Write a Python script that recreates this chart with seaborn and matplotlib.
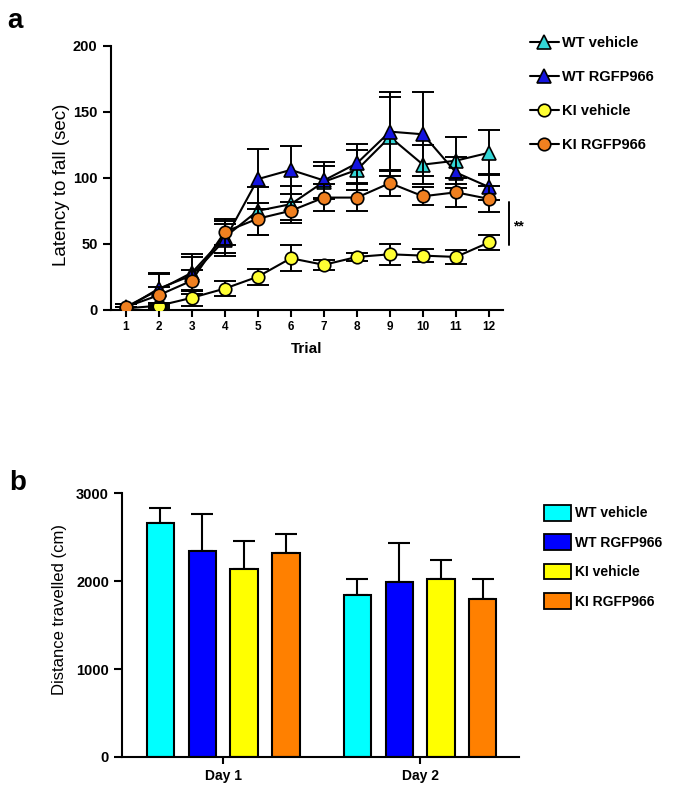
import numpy as np
import pandas as pd
import matplotlib
matplotlib.use("Agg")
import matplotlib.pyplot as plt
from matplotlib.patches import Patch
import seaborn as sns

# ---- data: panel a (rotarod latency, mean and SEM per trial) ----
trials = list(range(1, 13))
groups = ["WT vehicle", "WT RGFP966", "KI vehicle", "KI RGFP966"]
wt_vehicle = [2, 15, 28, 55, 75, 80, 97, 106, 131, 110, 113, 119]
wt_vehicle_sem = [2, 12, 14, 12, 18, 14, 12, 15, 30, 15, 18, 17]
wt_rgfp = [1, 16, 26, 53, 99, 106, 98, 111, 135, 133, 104, 93]
wt_rgfp_sem = [1, 12, 14, 12, 23, 18, 14, 15, 30, 32, 12, 10]
ki_vehicle = [1, 3, 9, 16, 25, 39, 34, 40, 42, 41, 40, 51]
ki_vehicle_sem = [1, 2, 6, 6, 6, 10, 4, 3, 8, 5, 5, 6]
ki_rgfp = [2, 11, 22, 59, 69, 75, 85, 85, 96, 86, 89, 84]
ki_rgfp_sem = [2, 6, 8, 10, 12, 7, 10, 10, 10, 7, 11, 10]

# ---- data: panel b (open field distance, mean and SEM) ----
days = ["Day 1", "Day 2"]
dist_wt_vehicle = [2666, 1846]
dist_wt_vehicle_sem = [163, 174]
dist_wt_rgfp = [2347, 1994]
dist_wt_rgfp_sem = [414, 444]
dist_ki_vehicle = [2142, 2020]
dist_ki_vehicle_sem = [319, 221]
dist_ki_rgfp = [2316, 1796]
dist_ki_rgfp_sem = [217, 224]

line_colors = ["#33D6D6", "#1414E0", "#FFFF33", "#F08020"]
bar_colors = ["#00FFFF", "#0000FF", "#FFFF00", "#FF8000"]
markers = ["^", "^", "o", "o"]

sns.set_style("ticks", {"axes.edgecolor": "black", "xtick.color": "black",
                        "ytick.color": "black", "text.color": "black",
                        "axes.labelcolor": "black"})
plt.rcParams["font.family"] = ["Liberation Sans", "DejaVu Sans"]
plt.rcParams["font.weight"] = "bold"
plt.rcParams["axes.linewidth"] = 1.5
plt.rcParams["xtick.major.width"] = 1.5
plt.rcParams["ytick.major.width"] = 1.5

fig = plt.figure(figsize=(6.75, 7.85), dpi=100)

# ---------------- panel a ----------------
ax = fig.add_axes([0.164, 0.6055, 0.581, 0.336])
means = [wt_vehicle, wt_rgfp, ki_vehicle, ki_rgfp]
sems = [wt_vehicle_sem, wt_rgfp_sem, ki_vehicle_sem, ki_rgfp_sem]
for i, g in enumerate(groups):
    ax.errorbar(trials, means[i], yerr=sems[i], fmt="none", ecolor="black",
                elinewidth=1.4, capsize=8, capthick=1.4, zorder=2 + i)
    sns.lineplot(x=trials, y=means[i], ax=ax, color="black", lw=1.5,
                 marker=markers[i], markersize=10 if markers[i] == "^" else 9,
                 markerfacecolor=line_colors[i], markeredgecolor="black",
                 markeredgewidth=1.2, label=g, zorder=3 + i)

ax.set_xlim(0.545, 12.42)
ax.set_ylim(0, 200)
ax.set_xticks(trials)
ax.set_yticks([0, 50, 100, 150, 200])
ax.tick_params(axis="x", labelsize=8.5, length=5)
ax.tick_params(axis="y", labelsize=10.5, length=6)
ax.set_xlabel("Trial", fontsize=11, fontweight="bold", labelpad=6)
ax.set_ylabel("Latency to fall (sec)", fontsize=13.5, fontweight="normal")
ax.yaxis.set_label_coords(-0.105, 0.473)
sns.despine(ax=ax)

# significance bracket
ax.plot([12.6, 12.6], [49, 82], color="black", lw=1.4, clip_on=False)
ax.text(12.72, 63, "**", fontsize=10, fontweight="bold", va="center",
        ha="left")

ax.legend(loc="upper left", bbox_to_anchor=(1.035, 1.087), frameon=False,
          labelspacing=1.38, handlelength=2.0, handletextpad=0.2,
          prop={"weight": "bold", "size": 10.5})

fig.text(0.01, 0.973, "a", fontsize=20, fontweight="bold", va="center")

# ---------------- panel b ----------------
bx = fig.add_axes([0.181, 0.0357, 0.588, 0.336])
dist_means = [dist_wt_vehicle, dist_wt_rgfp, dist_ki_vehicle, dist_ki_rgfp]
dist_sems = [dist_wt_vehicle_sem, dist_wt_rgfp_sem, dist_ki_vehicle_sem,
             dist_ki_rgfp_sem]
df = pd.DataFrame({
    "Day": days * len(groups),
    "Group": [g for g in groups for _ in days],
    "Distance": [v for m in dist_means for v in m],
})
sns.barplot(data=df, x="Day", y="Distance", hue="Group", hue_order=groups,
            palette=bar_colors, errorbar=None, width=0.85, gap=0.35,
            edgecolor="black", linewidth=1.5, saturation=1, ax=bx,
            legend=False)

bar_containers = list(bx.containers)
for i, cont in enumerate(bar_containers):
    xs = [p.get_x() + p.get_width() / 2 for p in cont]
    bx.errorbar(xs, dist_means[i], yerr=[[0] * len(xs), dist_sems[i]],
                fmt="none", ecolor="black", elinewidth=1.5, capsize=8,
                capthick=1.5, zorder=0)

bx.set_xlim(-0.513, 1.503)
bx.set_ylim(0, 3000)
bx.set_yticks([0, 1000, 2000, 3000])
bx.tick_params(axis="x", labelsize=10, length=5)
bx.tick_params(axis="y", labelsize=10.5, length=6)
bx.set_xlabel("")
bx.set_ylabel("Distance travelled (cm)", fontsize=12, fontweight="normal")
bx.yaxis.set_label_coords(-0.139, 0.56)
sns.despine(ax=bx)

handles = [Patch(facecolor=c, edgecolor="black", linewidth=1.3)
           for c in bar_colors]
bx.legend(handles, groups, loc="upper left", bbox_to_anchor=(1.032, 1.003),
          frameon=False, labelspacing=1.0, handlelength=1.9,
          handleheight=1.35, handletextpad=0.3,
          prop={"weight": "bold", "size": 10})

fig.text(0.014, 0.385, "b", fontsize=20, fontweight="bold", va="center")

fig.savefig("out.png", dpi=100)
